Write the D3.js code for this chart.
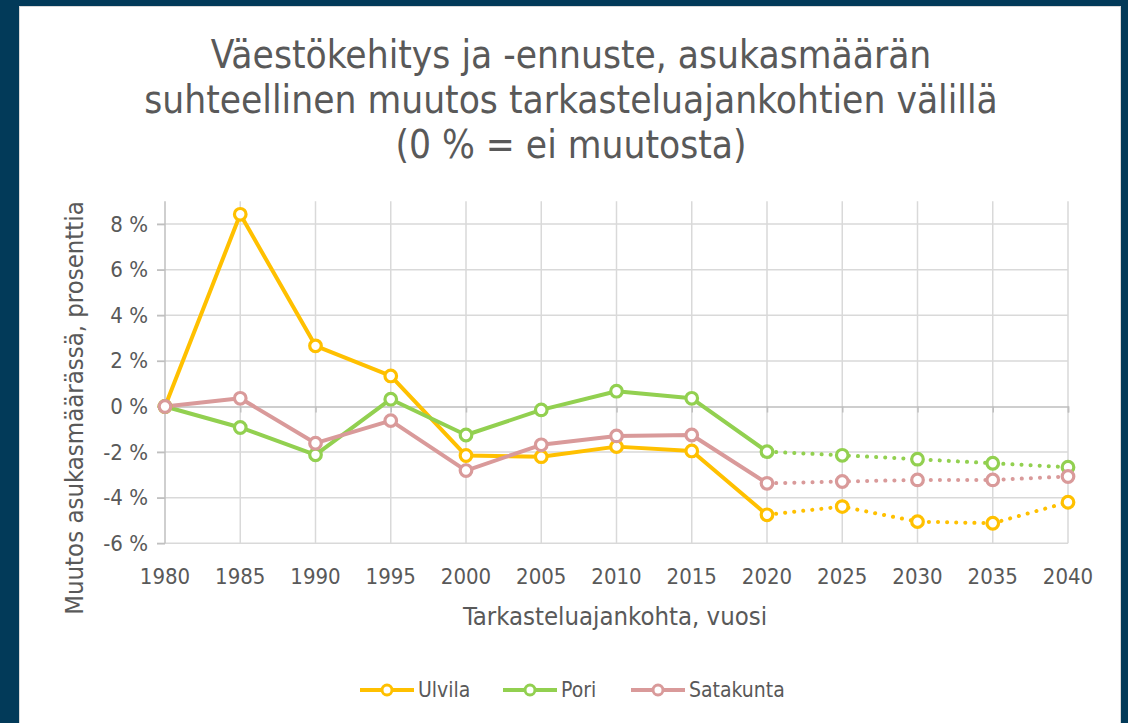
<!DOCTYPE html>
<html>
<head>
<meta charset="utf-8">
<script src="https://cdn.jsdelivr.net/npm/d3@7"></script>
<style>
  html, body { margin: 0; padding: 0; background: #023a59; }
  text { font-family: "Liberation Sans Narrow", "DejaVu Sans Condensed", sans-serif; fill: #595959; }
</style>
</head>
<body>
<script>
var years = [1980, 1985, 1990, 1995, 2000, 2005, 2010, 2015, 2020, 2025, 2030, 2035, 2040];
var ulvila = [0, 8.43, 2.66, 1.34, -2.15, -2.2, -1.76, -1.95, -4.75, -4.39, -5.05, -5.12, -4.2];
var pori = [0, -0.92, -2.12, 0.32, -1.25, -0.15, 0.67, 0.36, -1.98, -2.14, -2.31, -2.49, -2.66];
var satakunta = [0, 0.36, -1.61, -0.62, -2.81, -1.68, -1.29, -1.25, -3.37, -3.29, -3.22, -3.22, -3.07];
var seriesNames = ["Ulvila", "Pori", "Satakunta"];
var yTicks = [-6, -4, -2, 0, 2, 4, 6, 8];
var forecastFrom = 2020;

var colors = {Ulvila: "#ffc000", Pori: "#92d050", Satakunta: "#d99a9a"};

var svg = d3.select("body").append("svg")
    .attr("width", 1128)
    .attr("height", 723);

// white panel
svg.append("rect")
    .attr("x", 19.5).attr("y", 6.5)
    .attr("width", 1101).attr("height", 730)
    .attr("fill", "#fff")
    .attr("stroke", "#d9d9d9");

var x = d3.scaleLinear().domain([1980, 2040]).range([165, 1068]);
var y = d3.scaleLinear().domain([-6, 9]).range([543.3, 201.3]);

// title
var title = ["Väestökehitys ja -ennuste, asukasmäärän",
             "suhteellinen muutos tarkasteluajankohtien välillä",
             "(0 % = ei muutosta)"];
svg.append("g").selectAll("text")
  .data(title)
  .enter().append("text")
    .attr("x", 571)
    .attr("y", function(d, i) { return 68 + i * 45; })
    .attr("text-anchor", "middle")
    .style("font-size", "38.5px")
    .text(function(d) { return d; });

// gridlines
var grid = svg.append("g");
grid.selectAll(".hgrid")
  .data(yTicks.filter(function(d) { return d !== 0; }))
  .enter().append("line")
    .attr("x1", 157).attr("x2", x(2040))
    .attr("y1", function(d) { return y(d); })
    .attr("y2", function(d) { return y(d); })
    .attr("stroke", "#d9d9d9").attr("stroke-width", 1.5);
grid.selectAll(".vgrid")
  .data(years.slice(1))
  .enter().append("line")
    .attr("x1", function(d) { return x(d); })
    .attr("x2", function(d) { return x(d); })
    .attr("y1", y(9)).attr("y2", y(-6))
    .attr("stroke", "#d9d9d9").attr("stroke-width", 1.5);

// zero axis with ticks
var xAxis = svg.append("g")
    .attr("transform", "translate(0," + y(0) + ")")
    .call(d3.axisBottom(x).tickValues(years).tickSize(6).tickFormat(""));
xAxis.select(".domain").attr("stroke", "#bfbfbf").attr("stroke-width", 1.5);
xAxis.selectAll(".tick line").attr("stroke", "#bfbfbf").attr("stroke-width", 1.5);

// left axis
var yAxis = svg.append("g")
    .attr("transform", "translate(" + x(1980) + ",0)")
    .call(d3.axisLeft(y).tickValues(yTicks).tickSize(8).tickPadding(9));
yAxis.select(".domain").attr("d", "M0," + y(9) + "V" + y(-6)).attr("stroke", "#bfbfbf").attr("stroke-width", 1.5);
yAxis.selectAll(".tick line").attr("stroke", "#bfbfbf").attr("stroke-width", 1.5);
yAxis.selectAll(".tick text")
    .style("font-size", "22px").style("font-family", null).attr("fill", "#595959")
    .text(function(d) { return (d < 0 ? "-" + Math.abs(d) : d) + " %"; });

// x tick labels
svg.append("g").selectAll("text")
  .data(years)
  .enter().append("text")
    .attr("x", function(d) { return x(d); })
    .attr("y", 584)
    .attr("text-anchor", "middle")
    .style("font-size", "22px")
    .text(function(d) { return d; });

// axis titles
svg.append("text")
    .attr("x", 615).attr("y", 625)
    .attr("text-anchor", "middle")
    .style("font-size", "25.5px")
    .text("Tarkasteluajankohta, vuosi");
svg.append("text")
    .attr("transform", "translate(83,408) rotate(-90)")
    .attr("text-anchor", "middle")
    .style("font-size", "25.5px")
    .text("Muutos asukasmäärässä, prosenttia");

var data = {Ulvila: ulvila, Pori: pori, Satakunta: satakunta};
var fIdx = years.indexOf(forecastFrom);

var line = d3.line()
    .x(function(d) { return x(d[0]); })
    .y(function(d) { return y(d[1]); });

var plot = svg.append("g");
seriesNames.forEach(function(name) {
  var pts = years.map(function(yr, i) { return [yr, data[name][i]]; });
  plot.append("path")
      .datum(pts.slice(0, fIdx + 1))
      .attr("d", line)
      .attr("fill", "none")
      .attr("stroke", colors[name])
      .attr("stroke-width", 4)
      .attr("stroke-linejoin", "round");
  plot.append("path")
      .datum(pts.slice(fIdx))
      .attr("d", line)
      .attr("fill", "none")
      .attr("stroke", colors[name])
      .attr("stroke-width", 4)
      .attr("stroke-linecap", "round")
      .attr("stroke-dasharray", "0.1 9");
});
seriesNames.forEach(function(name) {
  plot.selectAll(null)
    .data(years.map(function(yr, i) { return [yr, data[name][i]]; }))
    .enter().append("circle")
      .attr("cx", function(d) { return x(d[0]); })
      .attr("cy", function(d) { return y(d[1]); })
      .attr("r", 5.8)
      .attr("fill", "#fff")
      .attr("stroke", colors[name])
      .attr("stroke-width", 3.2);
});

// legend
var legendX = [360, 503, 631];
var legend = svg.selectAll(".legend")
  .data(seriesNames)
  .enter().append("g")
    .attr("class", "legend")
    .attr("transform", function(d, i) { return "translate(" + legendX[i] + ",690)"; });
legend.append("line")
    .attr("x1", 0).attr("x2", 54)
    .attr("stroke", function(d) { return colors[d]; })
    .attr("stroke-width", 4);
legend.append("circle")
    .attr("cx", 27).attr("r", 5)
    .attr("fill", "#fff")
    .attr("stroke", function(d) { return colors[d]; })
    .attr("stroke-width", 3);
legend.append("text")
    .attr("x", 58).attr("dy", "0.35em")
    .style("font-size", "21px")
    .text(function(d) { return d; });
</script>
</body>
</html>
